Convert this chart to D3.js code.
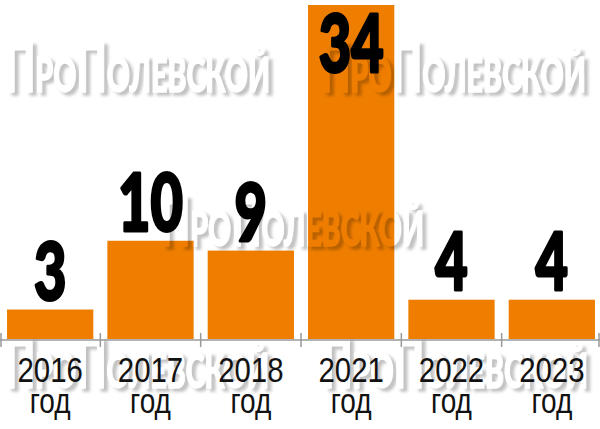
<!DOCTYPE html>
<html>
<head>
<meta charset="utf-8">
<script src="https://cdn.jsdelivr.net/npm/d3@7"></script>
<style>
html,body{margin:0;padding:0;background:#fff;}
svg{display:block;}
</style>
</head>
<body>
<svg id="chart" width="600" height="429"></svg>
<script>
const years = ["2016", "2017", "2018", "2021", "2022", "2023"];
const values = [3, 10, 9, 34, 4, 4];
const yearSuffix = "год";
const watermarkText = "ПроПолевской";
// watermark placements: [left, baseline, width]
const watermarks = [[5, 92, 265], [320, 92, 266], [160, 246, 264], [5, 388, 264], [322, 388, 266]];

const W = 600, H = 429;
const svg = d3.select("#chart");

const x = d3.scaleBand().domain(years).range([0, 602]).paddingInner(0.14).paddingOuter(0.07);
const y = d3.scaleLinear().domain([0, 34]).range([339, 5]);

const defs = svg.append("defs");
const f = defs.append("filter").attr("id", "wm")
  .attr("x", "-5%").attr("y", "-30%").attr("width", "115%").attr("height", "160%");
f.append("feGaussianBlur").attr("in", "SourceAlpha").attr("stdDeviation", 1.4).attr("result", "b");
f.append("feOffset").attr("in", "b").attr("dx", 4).attr("dy", 3).attr("result", "o");
f.append("feFlood").attr("flood-color", "#000").attr("flood-opacity", 0.24).attr("result", "fl");
f.append("feComposite").attr("in", "fl").attr("in2", "o").attr("operator", "in").attr("result", "s");
f.append("feComposite").attr("in", "s").attr("in2", "SourceAlpha").attr("operator", "out");

// bars
svg.append("g").selectAll("rect").data(years).join("rect")
  .attr("x", d => x(d))
  .attr("y", (d, i) => y(values[i]))
  .attr("width", x.bandwidth())
  .attr("height", (d, i) => y(0) - y(values[i]))
  .attr("fill", "#ef7d00");

// watermarks
svg.append("g").selectAll("text").data(watermarks).join("text")
  .attr("x", d => d[0]).attr("y", d => d[1])
  .attr("textLength", d => d[2]).attr("lengthAdjust", "spacingAndGlyphs")
  .attr("font-family", "Lato, 'DejaVu Sans', sans-serif")
  .attr("font-weight", 900)
  .attr("font-size", 68)
  .style("font-variant", "small-caps")
  .attr("fill", "#fff")
  .attr("stroke", "#fff").attr("stroke-width", 1.5)
  .attr("filter", "url(#wm)")
  .text(watermarkText);

// axis
const step = x.step();
const axis = svg.append("g");
axis.append("line").attr("x1", 0).attr("x2", W).attr("y1", 340).attr("y2", 340)
  .attr("stroke", "#999").attr("stroke-width", 1.5);
const bounds = years.map(d => x(d) + x.bandwidth() / 2 - step / 2).concat([x(years[years.length - 1]) + x.bandwidth() / 2 + step / 2]);
axis.selectAll("line.tick").data(bounds).join("line").attr("class", "tick")
  .attr("x1", d => Math.max(1, Math.min(599, d))).attr("x2", d => Math.max(1, Math.min(599, d)))
  .attr("y1", 333).attr("y2", 347)
  .attr("stroke", "#999").attr("stroke-width", 1.5);

// year labels
const lab = svg.append("g").selectAll("g").data(years).join("g")
  .attr("transform", d => `translate(${x(d) + x.bandwidth() / 2},0)`);
lab.append("text").attr("transform", "translate(0,382) scale(0.84,1)")
  .attr("text-anchor", "middle")
  .attr("font-family", "'Liberation Sans', Arial, sans-serif")
  .attr("font-size", 35).attr("fill", "#111")
  .text(d => d);
lab.append("text").attr("transform", "translate(0,413) scale(0.8,1)")
  .attr("text-anchor", "middle")
  .attr("font-family", "'Liberation Sans', Arial, sans-serif")
  .attr("font-size", 35).attr("fill", "#111")
  .text(yearSuffix);

// value labels
const cap = 59;
svg.append("g").selectAll("text").data(years).join("text")
  .attr("transform", (d, i) => {
    const top = y(values[i]);
    const by = (top - 10 - cap < 0) ? top + cap + 8 : top - 10;
    return `translate(${x(d) + x.bandwidth() / 2},${by}) scale(0.7,1)`;
  })
  .attr("text-anchor", "middle")
  .attr("font-family", "Lato, 'DejaVu Sans', sans-serif")
  .attr("font-weight", 900)
  .attr("font-size", 80)
  .attr("fill", "#000")
  .attr("stroke", "#000").attr("stroke-width", 3).attr("stroke-linejoin", "round")
  .text((d, i) => values[i]);
</script>
</body>
</html>
